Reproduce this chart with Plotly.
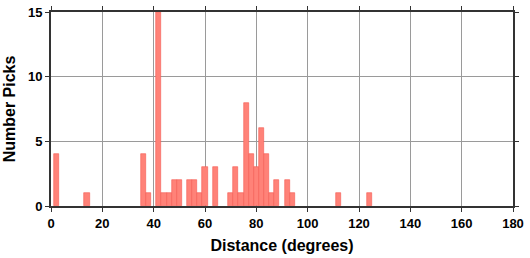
import plotly.graph_objects as go

bin_start = [1, 13, 35, 37, 41, 43, 45, 47, 49, 53, 55, 57, 59, 63, 69, 71, 73, 75, 77, 79, 81, 83, 85, 87, 91, 93, 111, 123]
counts = [4, 1, 4, 1, 15, 1, 1, 2, 2, 2, 2, 1, 3, 3, 1, 3, 1, 8, 4, 3, 6, 4, 1, 2, 2, 1, 1, 1]
bin_width = 2
x_ticks = [0, 20, 40, 60, 80, 100, 120, 140, 160, 180]
y_ticks = [0, 5, 10, 15]

centers = [b + bin_width / 2 for b in bin_start]

fig = go.Figure()
fig.add_trace(go.Bar(
    x=centers, y=counts, width=[bin_width] * len(centers),
    marker=dict(color="rgb(255,130,120)", line=dict(color="rgb(245,90,80)", width=0.6)),
))

font = dict(family="Liberation Sans", size=13, color="black", weight="bold")
tfont = dict(family="Liberation Sans", size=16, color="black", weight="bold")
fig.update_layout(
    width=530, height=258,
    margin=dict(l=51, r=11, t=6, b=51),
    plot_bgcolor="white", paper_bgcolor="white",
    showlegend=False, bargap=0,
    font=font,
)
fig.update_xaxes(
    range=[0, 180], tickvals=x_ticks, ticktext=[str(v) for v in x_ticks],
    showgrid=True, gridcolor="#9a9a9a", gridwidth=1,
    showline=True, linecolor="#333", linewidth=2, mirror="allticks",
    ticks="outside", ticklen=4, tickcolor="#333", tickwidth=1,
    zeroline=False,
    title=dict(text="Distance (degrees)", font=tfont, standoff=10),
    tickfont=font,
)
fig.update_yaxes(
    range=[0, 15], tickvals=y_ticks, ticktext=[str(v) for v in y_ticks],
    showgrid=True, gridcolor="#9a9a9a", gridwidth=1,
    showline=True, linecolor="#333", linewidth=2, mirror="allticks",
    ticks="outside", ticklen=4, tickcolor="#333", tickwidth=1,
    zeroline=False,
    title=dict(text="Number Picks", font=tfont, standoff=8),
    tickfont=font,
)
fig.write_html("out.html")
